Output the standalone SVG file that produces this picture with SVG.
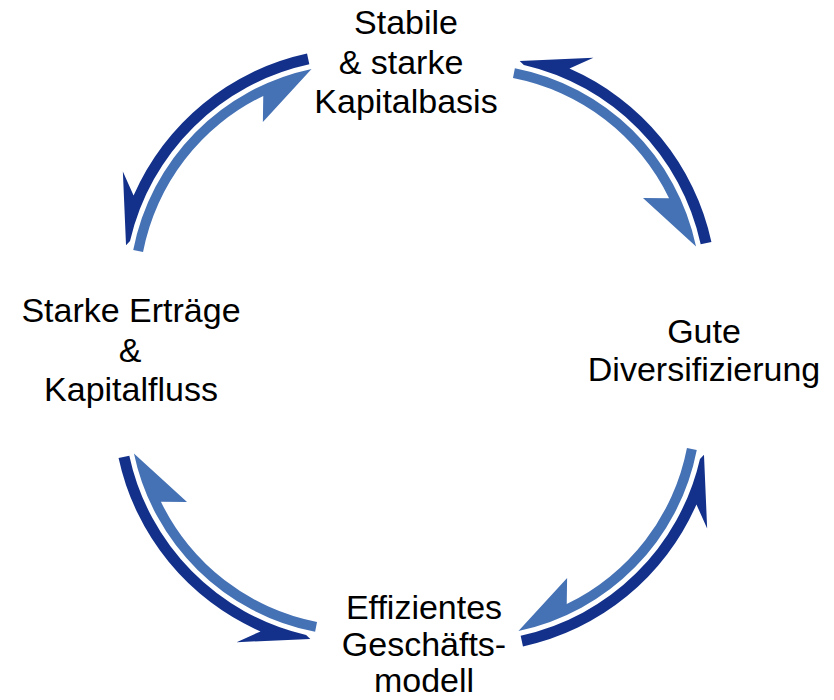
<svg xmlns="http://www.w3.org/2000/svg" width="834" height="700" viewBox="0 0 834 700">
<style>
  .lbl { font-family: "Liberation Sans", Arial, sans-serif; font-size: 34px; fill: #000; text-anchor: middle; }
  .dark { fill: #13318B; }
  .light { fill: #4571B5; }
</style>
<defs>
  <g id="pair">
    <path class="dark" d="M -107.98 -296.44 A 246 246 0 0 0 -281.43 -154.47 L -292.15 -178.41 L -288.98 -104.67 L -284.98 -108.88 A 235 235 0 0 1 -105.66 -285.69 Z"/>
    <path class="light" d="M -281.77 -99.88 A 230 230 0 0 1 -103.43 -281.06 L -152.12 -227.96 L -151.74 -254.07 A 220 220 0 0 0 -271.95 -97.98 Z"/>
  </g>
</defs>
<g id="connectors" transform="translate(415,350)">
  <use href="#pair"/>
  <use href="#pair" transform="rotate(90)"/>
  <use href="#pair" transform="rotate(180)"/>
  <use href="#pair" transform="rotate(270)"/>
</g>
<g id="node-top">
  <text class="lbl" x="406" y="34">Stabile</text>
  <text class="lbl" x="401" y="74">&amp; starke</text>
  <text class="lbl" x="406" y="113">Kapitalbasis</text>
</g>
<g id="node-right">
  <text class="lbl" x="704" y="343">Gute</text>
  <text class="lbl" x="704" y="381">Diversifizierung</text>
</g>
<g id="node-bottom">
  <text class="lbl" x="424" y="619">Effizientes</text>
  <text class="lbl" x="424" y="656">Geschäfts-</text>
  <text class="lbl" x="424" y="692">modell</text>
</g>
<g id="node-left">
  <text class="lbl" x="131" y="322">Starke Erträge</text>
  <text class="lbl" x="130" y="362">&amp;</text>
  <text class="lbl" x="131" y="401">Kapitalfluss</text>
</g>
</svg>
